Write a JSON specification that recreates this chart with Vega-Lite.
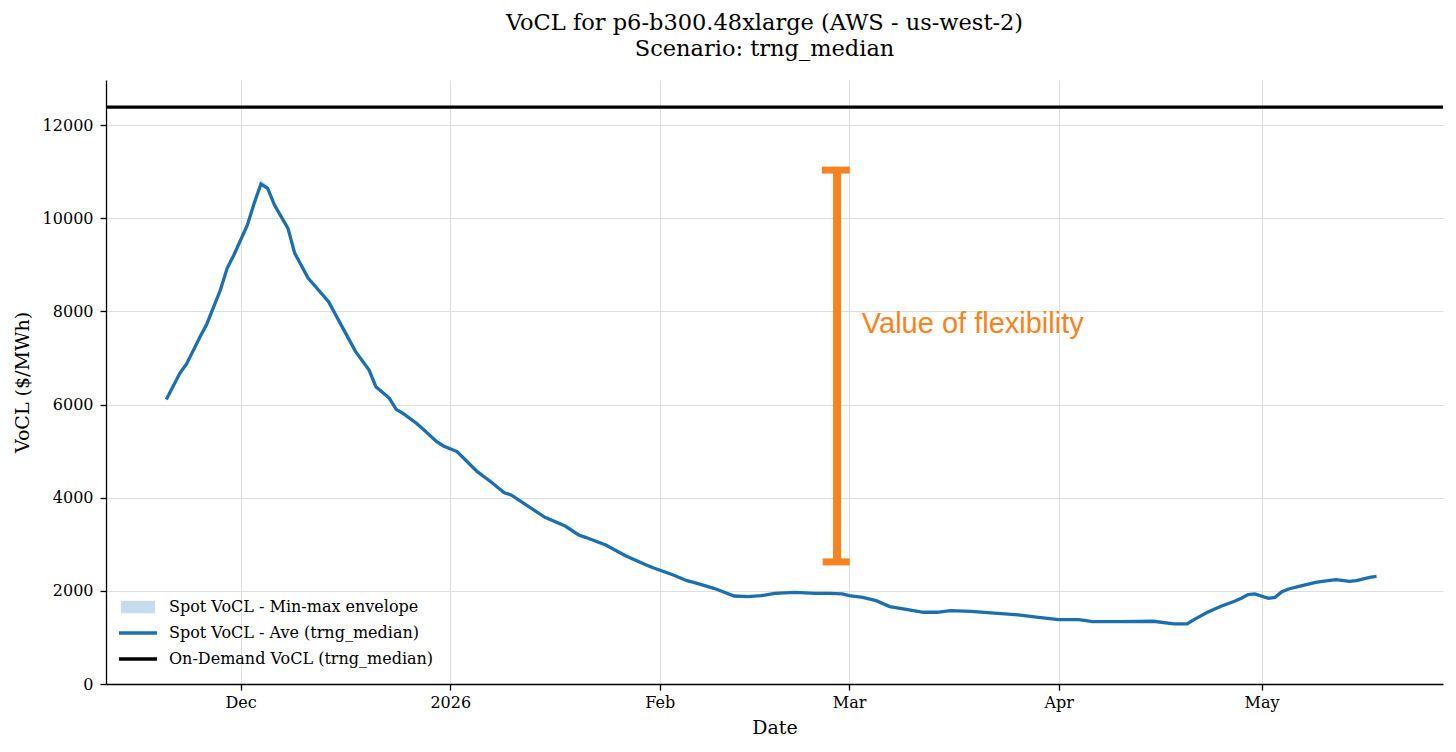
{
  "$schema": "https://vega.github.io/schema/vega-lite/v6.json",
  "width": 1337,
  "height": 604,
  "autosize": "none",
  "padding": {"left": 106, "top": 80, "right": 13, "bottom": 68},
  "background": "white",
  "config": {
    "font": "DejaVu Serif",
    "view": {"stroke": null},
    "axis": {
      "domainColor": "black", "domainWidth": 1.3,
      "tickColor": "black", "tickWidth": 1.3, "tickSize": 6,
      "labelFont": "DejaVu Serif", "labelFontSize": 16, "labelColor": "black",
      "titleFont": "DejaVu Serif", "titleFontSize": 19, "titleFontWeight": "normal", "titleColor": "black",
      "gridColor": "#dedede", "gridWidth": 1
    }
  },
  "title": {
    "text": ["VoCL for p6-b300.48xlarge (AWS - us-west-2)", "Scenario: trng_median"],
    "font": "DejaVu Serif", "fontSize": 22.5, "fontWeight": "normal", "color": "black",
    "lineHeight": 26, "baseline": "bottom", "offset": -3, "dx": -10, "anchor": "middle"
  },
  "datasets": {
    "spot": [
      {"date": "2025-11-20", "ave": 6110, "lo": 6080, "hi": 6150},
      {"date": "2025-11-22", "ave": 6670, "lo": 6640, "hi": 6720},
      {"date": "2025-11-23", "ave": 6870, "lo": 6840, "hi": 6920},
      {"date": "2025-11-25", "ave": 7456, "lo": 7420, "hi": 7510},
      {"date": "2025-11-26", "ave": 7729, "lo": 7690, "hi": 7790},
      {"date": "2025-11-28", "ave": 8458, "lo": 8420, "hi": 8520},
      {"date": "2025-11-29", "ave": 8924, "lo": 8890, "hi": 8980},
      {"date": "2025-11-30", "ave": 9210, "lo": 9170, "hi": 9270},
      {"date": "2025-12-02", "ave": 9854, "lo": 9820, "hi": 9910},
      {"date": "2025-12-03", "ave": 10320, "lo": 10280, "hi": 10390},
      {"date": "2025-12-04", "ave": 10734, "lo": 10690, "hi": 10820},
      {"date": "2025-12-05", "ave": 10640, "lo": 10600, "hi": 10700},
      {"date": "2025-12-06", "ave": 10283, "lo": 10250, "hi": 10330},
      {"date": "2025-12-08", "ave": 9783, "lo": 9750, "hi": 9830},
      {"date": "2025-12-09", "ave": 9246, "lo": 9210, "hi": 9290},
      {"date": "2025-12-11", "ave": 8710, "lo": 8680, "hi": 8750},
      {"date": "2025-12-12", "ave": 8545, "lo": 8510, "hi": 8590},
      {"date": "2025-12-14", "ave": 8208, "lo": 8180, "hi": 8250},
      {"date": "2025-12-16", "ave": 7672, "lo": 7640, "hi": 7710},
      {"date": "2025-12-18", "ave": 7135, "lo": 7100, "hi": 7170},
      {"date": "2025-12-20", "ave": 6741, "lo": 6710, "hi": 6780},
      {"date": "2025-12-21", "ave": 6383, "lo": 6350, "hi": 6420},
      {"date": "2025-12-23", "ave": 6133, "lo": 6100, "hi": 6170},
      {"date": "2025-12-24", "ave": 5897, "lo": 5870, "hi": 5930},
      {"date": "2025-12-25", "ave": 5811, "lo": 5780, "hi": 5850},
      {"date": "2025-12-27", "ave": 5597, "lo": 5570, "hi": 5630},
      {"date": "2025-12-28", "ave": 5468, "lo": 5440, "hi": 5500},
      {"date": "2025-12-30", "ave": 5202, "lo": 5170, "hi": 5240},
      {"date": "2025-12-31", "ave": 5110, "lo": 5080, "hi": 5140},
      {"date": "2026-01-02", "ave": 4990, "lo": 4960, "hi": 5020},
      {"date": "2026-01-03", "ave": 4846, "lo": 4820, "hi": 4880},
      {"date": "2026-01-05", "ave": 4558, "lo": 4530, "hi": 4590},
      {"date": "2026-01-07", "ave": 4343, "lo": 4320, "hi": 4370},
      {"date": "2026-01-09", "ave": 4107, "lo": 4080, "hi": 4140},
      {"date": "2026-01-10", "ave": 4058, "lo": 4030, "hi": 4090},
      {"date": "2026-01-13", "ave": 3771, "lo": 3750, "hi": 3800},
      {"date": "2026-01-15", "ave": 3578, "lo": 3555, "hi": 3605},
      {"date": "2026-01-18", "ave": 3392, "lo": 3370, "hi": 3420},
      {"date": "2026-01-20", "ave": 3199, "lo": 3175, "hi": 3225},
      {"date": "2026-01-21", "ave": 3149, "lo": 3125, "hi": 3175},
      {"date": "2026-01-24", "ave": 2984, "lo": 2960, "hi": 3010},
      {"date": "2026-01-27", "ave": 2748, "lo": 2725, "hi": 2775},
      {"date": "2026-01-30", "ave": 2555, "lo": 2535, "hi": 2580},
      {"date": "2026-01-31", "ave": 2497, "lo": 2475, "hi": 2520},
      {"date": "2026-02-03", "ave": 2340, "lo": 2320, "hi": 2365},
      {"date": "2026-02-05", "ave": 2218, "lo": 2200, "hi": 2240},
      {"date": "2026-02-06", "ave": 2183, "lo": 2165, "hi": 2205},
      {"date": "2026-02-09", "ave": 2054, "lo": 2035, "hi": 2075},
      {"date": "2026-02-12", "ave": 1889, "lo": 1870, "hi": 1910},
      {"date": "2026-02-14", "ave": 1874, "lo": 1855, "hi": 1895},
      {"date": "2026-02-16", "ave": 1896, "lo": 1878, "hi": 1915},
      {"date": "2026-02-18", "ave": 1947, "lo": 1930, "hi": 1965},
      {"date": "2026-02-21", "ave": 1968, "lo": 1950, "hi": 1985},
      {"date": "2026-02-24", "ave": 1947, "lo": 1930, "hi": 1965},
      {"date": "2026-02-26", "ave": 1947, "lo": 1930, "hi": 1965},
      {"date": "2026-02-28", "ave": 1933, "lo": 1915, "hi": 1950},
      {"date": "2026-03-01", "ave": 1897, "lo": 1880, "hi": 1915},
      {"date": "2026-03-03", "ave": 1860, "lo": 1842, "hi": 1878},
      {"date": "2026-03-05", "ave": 1790, "lo": 1772, "hi": 1808},
      {"date": "2026-03-07", "ave": 1661, "lo": 1645, "hi": 1680},
      {"date": "2026-03-09", "ave": 1612, "lo": 1595, "hi": 1630},
      {"date": "2026-03-12", "ave": 1540, "lo": 1525, "hi": 1558},
      {"date": "2026-03-14", "ave": 1540, "lo": 1525, "hi": 1558},
      {"date": "2026-03-16", "ave": 1576, "lo": 1560, "hi": 1593},
      {"date": "2026-03-19", "ave": 1561, "lo": 1545, "hi": 1578},
      {"date": "2026-03-23", "ave": 1518, "lo": 1502, "hi": 1535},
      {"date": "2026-03-26", "ave": 1483, "lo": 1468, "hi": 1500},
      {"date": "2026-03-29", "ave": 1432, "lo": 1417, "hi": 1448},
      {"date": "2026-04-01", "ave": 1383, "lo": 1368, "hi": 1400},
      {"date": "2026-04-04", "ave": 1383, "lo": 1368, "hi": 1400},
      {"date": "2026-04-06", "ave": 1340, "lo": 1325, "hi": 1356},
      {"date": "2026-04-10", "ave": 1340, "lo": 1325, "hi": 1356},
      {"date": "2026-04-15", "ave": 1347, "lo": 1332, "hi": 1363},
      {"date": "2026-04-18", "ave": 1290, "lo": 1275, "hi": 1306},
      {"date": "2026-04-20", "ave": 1290, "lo": 1275, "hi": 1306},
      {"date": "2026-04-21", "ave": 1383, "lo": 1366, "hi": 1400},
      {"date": "2026-04-23", "ave": 1540, "lo": 1522, "hi": 1560},
      {"date": "2026-04-25", "ave": 1668, "lo": 1650, "hi": 1688},
      {"date": "2026-04-27", "ave": 1775, "lo": 1757, "hi": 1795},
      {"date": "2026-04-28", "ave": 1840, "lo": 1822, "hi": 1860},
      {"date": "2026-04-29", "ave": 1918, "lo": 1900, "hi": 1938},
      {"date": "2026-04-30", "ave": 1933, "lo": 1915, "hi": 1952},
      {"date": "2026-05-02", "ave": 1840, "lo": 1822, "hi": 1860},
      {"date": "2026-05-03", "ave": 1861, "lo": 1843, "hi": 1880},
      {"date": "2026-05-04", "ave": 1983, "lo": 1965, "hi": 2002},
      {"date": "2026-05-05", "ave": 2040, "lo": 2022, "hi": 2060},
      {"date": "2026-05-07", "ave": 2111, "lo": 2093, "hi": 2130},
      {"date": "2026-05-09", "ave": 2182, "lo": 2164, "hi": 2200},
      {"date": "2026-05-10", "ave": 2204, "lo": 2186, "hi": 2222},
      {"date": "2026-05-12", "ave": 2240, "lo": 2222, "hi": 2258},
      {"date": "2026-05-14", "ave": 2204, "lo": 2186, "hi": 2222},
      {"date": "2026-05-15", "ave": 2219, "lo": 2201, "hi": 2237},
      {"date": "2026-05-17", "ave": 2290, "lo": 2272, "hi": 2308},
      {"date": "2026-05-18", "ave": 2311, "lo": 2293, "hi": 2330}
    ],
    "ondemand": [{"value": 12385}],
    "flexbar": [{"date": "2026-02-27T05:00:00Z", "lo": 2621, "hi": 11033}],
    "flexcaps": [
      {"start": "2026-02-24T23:00:00Z", "end": "2026-03-01T02:00:00Z", "value": 11033},
      {"start": "2026-02-25T02:00:00Z", "end": "2026-03-01T02:00:00Z", "value": 2621}
    ],
    "flexlabel": [{"date": "2026-03-02T21:00:00Z", "value": 7538, "label": "Value of flexibility"}]
  },
  "layer": [
    {
      "data": {"name": "spot"},
      "mark": {"type": "area", "opacity": 1},
      "encoding": {
        "x": {"field": "date", "type": "temporal",
          "scale": {"type": "utc", "domain": [{"year": 2025, "month": 11, "date": 11, "hours": 2, "utc": true}, {"year": 2026, "month": 5, "date": 27, "hours": 20, "utc": true}]},
          "axis": {"title": "Date", "tickCount": "month", "grid": true, "labelOverlap": false, "labelFlush": false, "labelPadding": 4, "titlePadding": 8,
            "labelExpr": "utcmonth(datum.value) == 0 ? utcFormat(datum.value, '%Y') : utcFormat(datum.value, '%b')"}},
        "y": {"field": "lo", "type": "quantitative", "title": "VoCL ($/MWh)",
          "scale": {"domain": [0, 12967], "nice": false, "zero": false},
          "axis": {"values": [0, 2000, 4000, 6000, 8000, 10000, 12000], "format": "d", "grid": true, "labelPadding": 7, "titlePadding": 10}},
        "y2": {"field": "hi"},
        "color": {"datum": "Spot VoCL - Min-max envelope", "type": "nominal",
          "scale": {"domain": ["Spot VoCL - Min-max envelope", "Spot VoCL - Ave (trng_median)", "On-Demand VoCL (trng_median)"], "range": ["#c6dcec", "#1c6fae", "#000000"]},
          "legend": {
            "title": null, "orient": "none", "legendX": 24, "legendY": 519, "padding": 0,
            "symbolType": "M-4,0H4", "symbolSize": 90, "symbolStrokeWidth": 3.5, "symbolOpacity": 1,
            "labelFont": "DejaVu Serif", "labelFontSize": 16, "labelColor": "black", "labelOffset": 23, "labelLimit": 0,
            "rowPadding": 10,
            "encode": {"symbols": {"update": {
              "shape": {"signal": "datum.value === 'Spot VoCL - Min-max envelope' ? 'M-3.6,-1.3H3.6V1.3H-3.6Z' : 'M-4,0H4'"},
              "strokeWidth": {"signal": "datum.value === 'Spot VoCL - Min-max envelope' ? 0 : 3.5"},
              "fill": {"signal": "datum.value === 'Spot VoCL - Min-max envelope' ? '#c6dcec' : 'transparent'"},
              "stroke": {"scale": "color", "field": "value"}
            }}}
          }}
      }
    },
    {
      "data": {"name": "spot"},
      "mark": {"type": "line", "strokeWidth": 3.3},
      "encoding": {
        "x": {"field": "date", "type": "temporal"},
        "y": {"field": "ave", "type": "quantitative", "title": "VoCL ($/MWh)"},
        "color": {"datum": "Spot VoCL - Ave (trng_median)", "type": "nominal"}
      }
    },
    {
      "data": {"name": "ondemand"},
      "mark": {"type": "rule", "strokeWidth": 3.2},
      "encoding": {
        "y": {"field": "value", "type": "quantitative", "title": "VoCL ($/MWh)"},
        "color": {"datum": "On-Demand VoCL (trng_median)", "type": "nominal"}
      }
    },
    {
      "data": {"name": "flexbar"},
      "mark": {"type": "rule", "strokeWidth": 8, "color": "#f6831f"},
      "encoding": {
        "x": {"field": "date", "type": "temporal"},
        "y": {"field": "lo", "type": "quantitative", "title": "VoCL ($/MWh)"},
        "y2": {"field": "hi"}
      }
    },
    {
      "data": {"name": "flexcaps"},
      "mark": {"type": "rule", "strokeWidth": 7, "color": "#f6831f"},
      "encoding": {
        "x": {"field": "start", "type": "temporal"},
        "x2": {"field": "end"},
        "y": {"field": "value", "type": "quantitative", "title": "VoCL ($/MWh)"}
      }
    },
    {
      "data": {"name": "flexlabel"},
      "mark": {"type": "text", "font": "Liberation Sans", "fontSize": 29, "color": "#f6831f", "align": "left", "baseline": "alphabetic"},
      "encoding": {
        "x": {"field": "date", "type": "temporal"},
        "y": {"field": "value", "type": "quantitative", "title": "VoCL ($/MWh)"},
        "text": {"field": "label"}
      }
    }
  ]
}
